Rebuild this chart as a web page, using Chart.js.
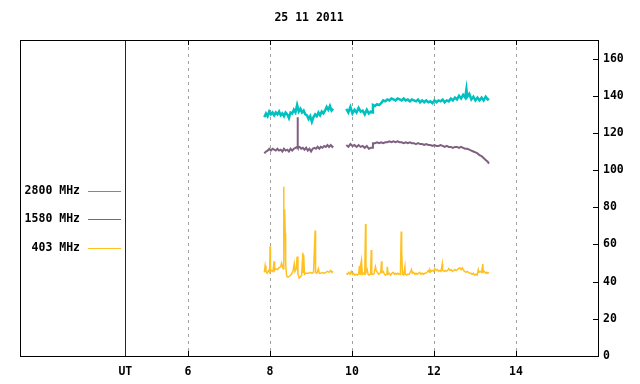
<!DOCTYPE html>
<html>
<head>
<meta charset="utf-8">
<script src="https://cdn.jsdelivr.net/npm/chart.js@4/dist/chart.umd.min.js"></script>
<style>
html,body{margin:0;padding:0;background:#fff;}
#wrap{width:640px;height:384px;}
</style>
</head>
<body>
<div id="wrap"><canvas id="c" width="640" height="384"></canvas></div>
<script>
const chartTitle = "25 11 2011";
const seriesNames = ["2800 MHz", "1580 MHz", "403 MHz"];
const seriesColors = ["#00c0c0", "#806080", "#ffc020"];
const xTickValues = [4.47, 6, 8, 10, 12, 14];
const xTickLabels = ["UT", "6", "8", "10", "12", "14"];
const yTickValues = [0, 20, 40, 60, 80, 100, 120, 140, 160];

// 2800 MHz  [UT hour, value]
const f2800a = [[7.86,128.5],[7.90,130.5],[7.94,129],[7.98,131.5],[8.02,130],[8.06,131],[8.10,129.5],[8.14,131],[8.18,130],[8.22,131.5],[8.26,129.5],[8.30,130.5],[8.34,129],[8.38,131],[8.42,130],[8.46,128],[8.50,131],[8.54,130.5],[8.58,132.5],[8.62,131],[8.66,135],[8.70,131.5],[8.74,133],[8.78,131],[8.82,132],[8.86,130],[8.90,129.5],[8.94,127.5],[8.98,129],[9.02,126],[9.06,128.5],[9.10,130],[9.14,129],[9.18,131],[9.22,129.5],[9.26,131.5],[9.30,130.5],[9.34,132],[9.38,134],[9.42,132.5],[9.46,134.5],[9.50,132],[9.54,133]];
const f2800b = [[9.86,133],[9.91,131],[9.96,134],[10.01,130.5],[10.06,132.5],[10.11,131],[10.16,133.5],[10.21,131.5],[10.26,132],[10.31,130],[10.36,132.5],[10.41,130.5],[10.46,131.5],[10.49,131],[10.51,135],[10.56,134.5],[10.61,135.5],[10.66,135],[10.71,136],[10.76,137.5],[10.81,137],[10.86,138],[10.91,137.5],[10.96,138.5],[11.01,138],[11.06,137.5],[11.11,138.5],[11.16,138],[11.21,137.5],[11.26,138.5],[11.31,137.5],[11.36,138],[11.41,137],[11.46,138],[11.51,137.5],[11.56,137],[11.61,138],[11.66,136.5],[11.71,137.5],[11.76,136.5],[11.81,137.5],[11.86,136.5],[11.91,137],[11.96,136],[12.01,137.5],[12.06,136.5],[12.11,137.5],[12.16,137],[12.21,138],[12.26,136.5],[12.31,137.5],[12.36,137],[12.41,138.5],[12.46,137.5],[12.51,139],[12.56,138],[12.61,140],[12.66,138.5],[12.71,140.5],[12.76,139],[12.79,143.5],[12.81,139.5],[12.86,141],[12.91,138],[12.96,139.5],[13.01,137.5],[13.06,139],[13.11,137.5],[13.16,139],[13.21,137.5],[13.26,139.5],[13.31,138],[13.34,138.5]];

// 1580 MHz
const f1580a = [[7.86,109],[7.90,110],[7.94,110.5],[7.98,111.5],[8.02,110.5],[8.06,111.5],[8.10,111],[8.14,110.5],[8.18,111.5],[8.22,110.5],[8.26,111],[8.30,110],[8.34,111.5],[8.38,110.5],[8.42,111],[8.46,110],[8.50,111.5],[8.54,110.5],[8.58,111.5],[8.62,112],[8.66,112.5],[8.67,128.5],[8.68,112],[8.72,112.5],[8.76,111.5],[8.80,112],[8.84,111],[8.88,112],[8.92,110.5],[8.96,111.5],[9.00,110],[9.04,111.5],[9.08,112],[9.12,111.5],[9.16,112.5],[9.20,111.5],[9.24,112.5],[9.28,112],[9.32,113],[9.36,112.5],[9.40,113.5],[9.44,112.5],[9.48,113.5],[9.52,112.5],[9.54,113]];
const f1580b = [[9.86,113.5],[9.91,112.5],[9.96,114],[10.01,113],[10.06,113.5],[10.11,112.5],[10.16,113.5],[10.21,112.5],[10.26,113],[10.31,112],[10.36,113],[10.41,111.5],[10.46,112],[10.49,112],[10.51,114.5],[10.56,114.5],[10.61,115],[10.66,114.5],[10.71,115],[10.76,114.5],[10.81,115],[10.86,115],[10.91,115.5],[10.96,115],[11.01,115.5],[11.06,115],[11.11,115.5],[11.16,115],[11.21,115],[11.26,114.5],[11.31,115],[11.36,114.5],[11.41,115],[11.46,114.5],[11.51,114.5],[11.56,114],[11.61,114.5],[11.66,114],[11.71,114],[11.76,113.5],[11.81,114],[11.86,113.5],[11.91,113.5],[11.96,113],[12.01,113.5],[12.06,113],[12.11,113],[12.16,113.5],[12.21,113],[12.26,112.5],[12.31,113],[12.36,112.5],[12.41,112.5],[12.46,112],[12.51,112.5],[12.56,112.5],[12.61,112],[12.66,112.5],[12.71,112],[12.76,111.5],[12.81,111.5],[12.86,111],[12.91,110.5],[12.96,110],[13.01,109.5],[13.06,109],[13.11,108],[13.16,107.5],[13.21,106.5],[13.26,105.5],[13.31,104.5],[13.34,103.5]];

// 403 MHz
const f403a = [[7.86,45],[7.88,48.5],[7.90,45.5],[7.93,44.5],[7.96,46],[7.99,45],[8.00,59],[8.01,45.5],[8.04,46],[8.07,45.5],[8.10,51],[8.11,46],[8.14,47],[8.18,46.5],[8.22,47.5],[8.26,48],[8.28,50],[8.30,48.5],[8.32,47],[8.33,91],[8.34,62],[8.355,79],[8.37,66],[8.38,50],[8.40,44],[8.42,42.5],[8.45,42.5],[8.48,43],[8.52,44],[8.56,45.5],[8.59,49.5],[8.61,45.5],[8.64,47],[8.66,53.5],[8.68,44],[8.71,42],[8.74,42.5],[8.77,43.5],[8.80,55.5],[8.81,45],[8.82,54.5],[8.84,44],[8.87,44.5],[8.90,44.5],[8.94,44.5],[8.98,45],[9.02,44.5],[9.06,45],[9.10,67.5],[9.11,45],[9.14,44.5],[9.18,47],[9.20,44.5],[9.24,44.5],[9.28,45],[9.32,44.5],[9.36,45],[9.40,45.5],[9.44,45],[9.48,46],[9.51,45],[9.54,45.5]];
const f403b = [[9.86,44.5],[9.89,44],[9.92,45],[9.95,44],[9.98,45.5],[10.01,44],[10.04,44.5],[10.07,43.5],[10.10,44],[10.13,43.5],[10.16,44],[10.18,48.5],[10.20,44],[10.21,49],[10.23,51.5],[10.25,44],[10.28,44.5],[10.31,44],[10.33,71],[10.34,45],[10.37,46.5],[10.39,44],[10.42,43.5],[10.45,44],[10.47,57],[10.48,44],[10.51,44],[10.54,44.5],[10.57,48],[10.59,46],[10.62,45],[10.65,44],[10.68,44.5],[10.70,45],[10.72,51],[10.73,45],[10.76,45.5],[10.79,44],[10.82,43.5],[10.85,44],[10.86,48],[10.88,44],[10.91,44.5],[10.94,43.5],[10.97,44.5],[11.00,45],[11.03,44],[11.06,44.5],[11.09,44],[11.12,44.5],[11.15,44],[11.18,44],[11.20,67],[11.21,57],[11.23,44],[11.26,43.5],[11.29,48],[11.30,44],[11.33,43.5],[11.36,44],[11.39,44],[11.42,45],[11.45,46.5],[11.47,44.5],[11.50,45],[11.53,44],[11.56,44.5],[11.59,44],[11.62,44.5],[11.65,45],[11.68,44],[11.71,44.5],[11.74,44],[11.77,44.5],[11.80,44.5],[11.83,45],[11.86,46],[11.89,45],[11.90,46.5],[11.93,45.5],[11.96,46],[11.99,45.5],[12.02,47],[12.05,46],[12.08,46.5],[12.11,45.5],[12.14,46],[12.17,45.5],[12.20,49.5],[12.21,46],[12.24,45.5],[12.27,46],[12.30,45.5],[12.33,46],[12.36,47],[12.39,46],[12.42,46.5],[12.45,45.5],[12.48,46],[12.51,46.5],[12.54,46],[12.57,46.5],[12.60,47],[12.63,47.5],[12.66,46.5],[12.69,47.5],[12.72,46],[12.75,45.5],[12.78,45],[12.81,45.5],[12.84,45],[12.87,44.5],[12.90,44.5],[12.93,44],[12.96,44.5],[12.99,43.5],[13.02,44],[13.05,43.5],[13.08,46.5],[13.10,45],[13.13,45.5],[13.16,45],[13.19,49.5],[13.20,45],[13.23,45.5],[13.26,44.5],[13.29,45],[13.31,44.5],[13.34,45]];

const gapX = 9.7;
function toPts(a, b) {
  const pts = a.map(p => ({x: p[0], y: p[1]}));
  pts.push({x: gapX, y: null});
  return pts.concat(b.map(p => ({x: p[0], y: p[1]})));
}

const FONT = "'DejaVu Sans Mono', 'Liberation Mono', monospace";
const fontSpec = {family: FONT, size: 11.5, weight: 'bold'};

const decorPlugin = {
  id: 'decor',
  beforeDatasetsDraw(chart) {
    const ctx = chart.ctx, a = chart.chartArea;
    const xs = chart.scales.x, ys = chart.scales.y;
    ctx.save();
    ctx.strokeStyle = '#a0a0a0';
    ctx.lineWidth = 1;
    ctx.setLineDash([3, 4]);
    for (let i = 1; i < xTickValues.length; i++) {
      const px = Math.round(xs.getPixelForValue(xTickValues[i])) + 0.5;
      ctx.beginPath(); ctx.moveTo(px, a.top); ctx.lineTo(px, a.bottom); ctx.stroke();
    }
    ctx.setLineDash([]);
    ctx.strokeStyle = '#000';
    for (let i = 1; i < xTickValues.length; i++) {
      const px = Math.round(xs.getPixelForValue(xTickValues[i])) + 0.5;
      ctx.beginPath();
      ctx.moveTo(px, a.bottom); ctx.lineTo(px, a.bottom - 5);
      ctx.moveTo(px, a.top); ctx.lineTo(px, a.top + 5);
      ctx.stroke();
    }
    for (const v of yTickValues) {
      const py = Math.round(ys.getPixelForValue(v)) + 0.5;
      ctx.beginPath(); ctx.moveTo(a.right, py); ctx.lineTo(a.right - 5, py); ctx.stroke();
    }
    const ux = Math.round(xs.getPixelForValue(xTickValues[0])) + 0.5;
    ctx.strokeStyle = '#800000';
    ctx.beginPath(); ctx.moveTo(ux, a.top); ctx.lineTo(ux, a.bottom); ctx.stroke();
    ctx.restore();
  },
  afterDraw(chart) {
    const ctx = chart.ctx, a = chart.chartArea;
    ctx.save();
    ctx.strokeStyle = '#000';
    ctx.lineWidth = 1;
    ctx.strokeRect(Math.round(a.left) + 0.5, Math.round(a.top) + 0.5, Math.round(a.right - a.left), Math.round(a.bottom - a.top));
    ctx.font = "bold 11.5px " + FONT;
    ctx.fillStyle = '#000';
    ctx.textAlign = 'center';
    ctx.textBaseline = 'middle';
    ctx.fillText(chartTitle, (a.left + a.right) / 2, 18);
    const legY = [191, 219, 248];
    ctx.textAlign = 'right';
    for (let i = 0; i < seriesNames.length; i++) {
      ctx.fillStyle = '#000';
      ctx.fillText(seriesNames[i], 80, legY[i]);
      ctx.strokeStyle = seriesColors[i];
      ctx.beginPath(); ctx.moveTo(88, legY[i] + 0.5); ctx.lineTo(121, legY[i] + 0.5); ctx.stroke();
    }
    ctx.restore();
  }
};

new Chart(document.getElementById('c'), {
  type: 'line',
  data: {
    datasets: [
      {label: seriesNames[0], data: toPts(f2800a, f2800b), borderColor: seriesColors[0], borderWidth: 2.5},
      {label: seriesNames[1], data: toPts(f1580a, f1580b), borderColor: seriesColors[1], borderWidth: 2},
      {label: seriesNames[2], data: toPts(f403a, f403b), borderColor: seriesColors[2], borderWidth: 1.5}
    ]
  },
  options: {
    responsive: false,
    devicePixelRatio: 1,
    animation: false,
    layout: {padding: {left: 20, top: 40, right: 0, bottom: 0}},
    elements: {point: {radius: 0}, line: {tension: 0}},
    spanGaps: false,
    plugins: {legend: {display: false}, title: {display: false}, tooltip: {enabled: false}},
    scales: {
      x: {
        type: 'linear', min: 1.9, max: 16,
        grid: {display: false, drawTicks: false},
        border: {display: false},
        afterBuildTicks: s => { s.ticks = xTickValues.map(v => ({value: v})); },
        afterFit: s => { s.height = 28; },
        ticks: {
          autoSkip: false, maxRotation: 0, padding: 9, color: '#000', font: fontSpec,
          callback: (v) => { const i = xTickValues.indexOf(v); return i >= 0 ? xTickLabels[i] : ''; }
        }
      },
      y: {
        type: 'linear', position: 'right', min: 0, max: 170,
        grid: {display: false, drawTicks: false},
        border: {display: false},
        afterBuildTicks: s => { s.ticks = yTickValues.map(v => ({value: v})); },
        afterFit: s => { s.width = 42; },
        ticks: {padding: 5, color: '#000', font: fontSpec}
      }
    }
  },
  plugins: [decorPlugin]
});
</script>
</body>
</html>
